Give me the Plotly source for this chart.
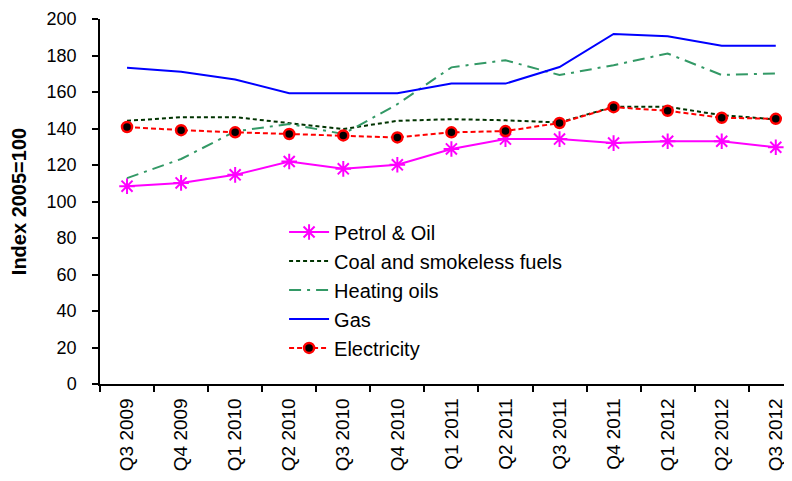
import plotly.graph_objects as go

# Quarters on the x axis
quarters = ["Q3 2009", "Q4 2009", "Q1 2010", "Q2 2010", "Q3 2010", "Q4 2010",
            "Q1 2011", "Q2 2011", "Q3 2011", "Q4 2011", "Q1 2012", "Q2 2012", "Q3 2012"]

# Index values (2005=100)
petrol_oil = [108.4, 110.2, 114.6, 121.9, 117.9, 120.1, 128.8, 134.2, 134.2, 132.0, 133.0, 133.0, 129.7]
coal = [144.2, 146.2, 146.2, 143.0, 139.7, 144.2, 145.1, 144.5, 143.3, 151.9, 151.9, 147.3, 145.0]
heating_oils = [112.8, 123.3, 138.4, 142.5, 137.0, 153.3, 173.5, 177.4, 169.3, 174.7, 181.1, 169.3, 170.2]
gas = [173.3, 171.1, 166.9, 159.3, 159.3, 159.3, 164.6, 164.6, 173.7, 191.8, 190.6, 185.3, 185.3]
electricity = [140.8, 139.1, 137.9, 137.0, 136.2, 135.1, 137.9, 138.6, 143.0, 151.7, 149.7, 145.9, 145.3]

FONT = "Liberation Sans, Arial, sans-serif"

fig = go.Figure()

fig.add_trace(go.Scatter(
    x=quarters, y=petrol_oil, name="Petrol & Oil", mode="lines+markers",
    line=dict(color="#FF00FF", width=2),
    marker=dict(symbol="asterisk-open", size=13, color="#FF00FF",
                line=dict(color="#FF00FF", width=2))
))
fig.add_trace(go.Scatter(
    x=quarters, y=coal, name="Coal and smokeless fuels", mode="lines",
    line=dict(color="#003300", width=2, dash="4px,3px")
))
fig.add_trace(go.Scatter(
    x=quarters, y=heating_oils, name="Heating oils", mode="lines",
    line=dict(color="#339966", width=2, dash="12px,6px,3px,6px")
))
fig.add_trace(go.Scatter(
    x=quarters, y=gas, name="Gas", mode="lines",
    line=dict(color="#0000FF", width=2)
))
fig.add_trace(go.Scatter(
    x=quarters, y=electricity, name="Electricity", mode="lines+markers",
    line=dict(color="#FF0000", width=2, dash="5px,3px"),
    marker=dict(symbol="circle", size=10, color="black",
                line=dict(color="#FF0000", width=2.5))
))

# page body has an 8px default margin, so the figure is a bit smaller than the window
fig.update_layout(
    width=784,
    height=473,
    margin=dict(l=92, r=0, t=11, b=97),
    paper_bgcolor="white",
    plot_bgcolor="white",
    font=dict(family=FONT, size=18, color="black"),
    showlegend=True,
    legend=dict(
        x=0.266, y=0.47, xanchor="left", yanchor="top",
        bgcolor="rgba(0,0,0,0)",
        font=dict(family=FONT, size=20, color="black"),
        tracegroupgap=0, itemwidth=40
    ),
    xaxis=dict(
        type="category",
        range=[-0.5, 12.3],
        automargin=False,
        tickson="boundaries",
        ticks="outside", ticklen=6, tickcolor="black", tickwidth=1.5,
        tickangle=-90,
        ticklabelstandoff=5,
        ticklabeloverflow="allow",
        showline=True, linecolor="black", linewidth=1.5,
        showgrid=False, zeroline=False,
        tickfont=dict(family=FONT, size=19, color="black")
    ),
    yaxis=dict(
        range=[0, 200], dtick=20,
        automargin=False,
        ticks="outside", ticklen=6, tickcolor="black", tickwidth=1.5,
        ticklabelstandoff=12,
        ticklabeloverflow="allow",
        showline=True, linecolor="black", linewidth=1.5,
        showgrid=False, zeroline=False,
        tickfont=dict(family=FONT, size=18, color="black"),
        title=dict(text="<b>Index 2005=100</b>", standoff=15,
                   font=dict(family=FONT, size=20, color="black"))
    )
)

fig.write_html("out.html")
